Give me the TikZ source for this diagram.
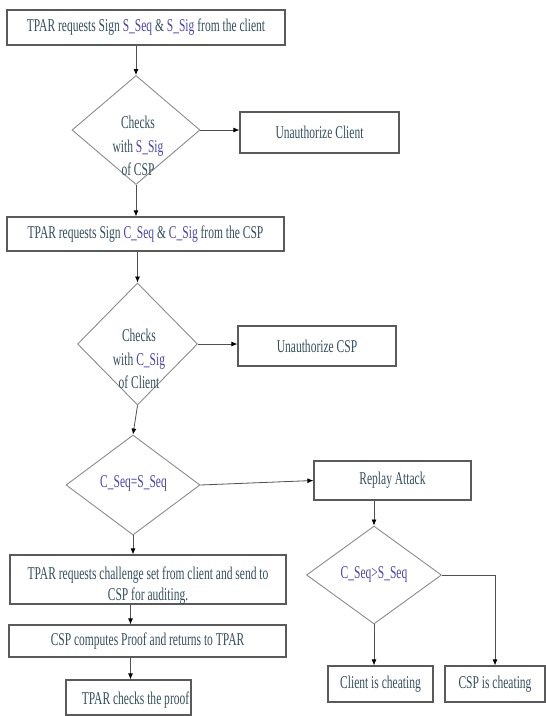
\documentclass[tikz,border=0pt]{standalone}
\usepackage{fontspec}
\setmainfont{Liberation Serif}[FakeStretch=0.64]
\usetikzlibrary{shapes.geometric,arrows.meta}
\definecolor{txt}{HTML}{34505F}
\definecolor{varc}{HTML}{4A45B8}
\definecolor{boxedge}{HTML}{5A5A5A}
\definecolor{diaedge}{HTML}{8C8C8C}
\definecolor{linec}{HTML}{505050}
\newcommand{\vv}[1]{\textcolor{varc}{#1}}
\begin{document}
\begin{tikzpicture}[x=1pt,y=-1pt,
  every node/.style={font=\fontsize{18}{23.5}\selectfont,text=txt},
  box/.style={draw=boxedge,line width=1.2pt,rectangle,inner sep=0pt},
  dia/.style={draw=diaedge,line width=0.9pt,diamond,inner sep=0pt},
  lbl/.style={align=center,inner sep=0pt},
  arr/.style={draw=linec,line width=0.8pt,-{Latex[length=6pt,width=5pt,color=black]}},
  conn/.style={draw=linec,line width=0.8pt}]
\useasboundingbox[fill=white] (0,0) rectangle (546,716);

% left column
\node[box,minimum width=278,minimum height=35] (b1) at (146,27.5)
  {TPAR requests Sign \vv{S\_Seq} \& \vv{S\_Sig} from the client};
\node[dia,minimum width=128,minimum height=109] (d1) at (136,130) {};
\node[lbl] (t1) at (138,146) {Checks\\with \vv{S\_Sig}\\of CSP};
\node[box,minimum width=159,minimum height=41] (u1) at (319.5,132.5) {Unauthorize Client};

\node[box,minimum width=277,minimum height=34] (b2) at (145.5,234)
  {TPAR requests Sign \vv{C\_Seq} \& \vv{C\_Sig} from the CSP};
\node[dia,minimum width=120,minimum height=122] (d2) at (137.5,344) {};
\node[lbl] (t2) at (139,359) {Checks\\with \vv{C\_Sig}\\of Client};
\node[box,minimum width=158,minimum height=40] (u2) at (317,346) {Unauthorize CSP};

\node[dia,minimum width=134,minimum height=100] (d3) at (133,485) {};
\node[lbl] (t3) at (133.5,483) {\vv{C\_Seq=S\_Seq}};

\node[box,minimum width=276,minimum height=49] (b3) at (148,579.5) {};
\node[lbl,font=\fontsize{18}{21}\selectfont] (t4) at (148,586)
  {TPAR requests challenge set from client and send to\\CSP for auditing.};
\node[box,minimum width=277,minimum height=32] (b4) at (147.5,641)
  {CSP computes Proof and returns to TPAR};
\node[box,minimum width=125,minimum height=35] (b5) at (128.5,697.5) {};
\node[lbl] (t5) at (135.5,700) {TPAR checks the proof};

% right column
\node[box,minimum width=157,minimum height=39] (r) at (392.5,480.5) {Replay Attack};
\node[dia,minimum width=135,minimum height=98] (d4) at (374,575) {};
\node[lbl] (t6) at (374,574) {\vv{C\_Seq>S\_Seq}};
\node[box,minimum width=105,minimum height=36] (cc) at (380.5,684) {Client is cheating};
\node[box,minimum width=100,minimum height=36] (cs) at (495,684) {CSP is cheating};

% connectors
\draw[arr] (d1.north |- b1.south) -- (d1.north);
\draw[arr] (d1.east) -- (d1.east -| u1.west);
\draw[arr] (d1.south) -- (d1.south |- b2.north);
\draw[arr] (d2.north |- b2.south) -- (d2.north);
\draw[arr] (d2.east) -- (d2.east -| u2.west);
\draw[arr] (d2.south) -- (d3.north);
\draw[arr] (d3.east) -- (r.west);
\draw[arr] (d3.south) -- (d3.south |- b3.north);
\draw[arr] (b3.south -| t5.north) ++(-5,0) coordinate (s3) -- (s3 |- b4.north);
\draw[arr] (s3 |- b4.south) -- (s3 |- b5.north);
\draw[arr] (d4.north |- r.south) -- (d4.north);
\draw[arr] (d4.south) -- (d4.south |- cc.north);
\draw[arr] (d4.east) -| (cs.north);
\end{tikzpicture}
\end{document}
